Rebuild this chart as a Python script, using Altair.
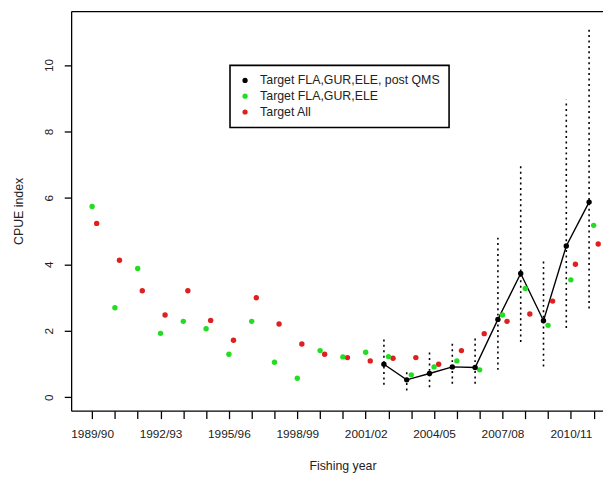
import altair as alt
import pandas as pd

# ---- data ----
years = ['1989/90', '1990/91', '1991/92', '1992/93', '1993/94', '1994/95', '1995/96',
         '1996/97', '1997/98', '1998/99', '1999/00', '2000/01', '2001/02', '2002/03',
         '2003/04', '2004/05', '2005/06', '2006/07', '2007/08', '2008/09', '2009/10',
         '2010/11', '2011/12']

green_vals = [5.74, 2.69, 3.87, 1.92, 2.28, 2.06, 1.29, 2.28, 1.05, 0.57, 1.40, 1.21,
              1.35, 1.22, 0.67, 0.91, 1.09, 0.82, 2.47, 3.27, 2.16, 3.53, 5.17]
red_vals = [5.23, 4.12, 3.20, 2.47, 3.20, 2.31, 1.71, 2.99, 2.20, 1.60, 1.29, 1.19,
            1.09, 1.17, 1.19, 0.99, 1.40, 1.91, 2.28, 2.50, 2.89, 4.00, 4.61]

post_years = years[13:]
post_vals = [0.99, 0.52, 0.71, 0.91, 0.89, 2.34, 3.72, 2.30, 4.55, 5.87]
post_lo = [0.37, 0.20, 0.30, 0.40, 0.40, 0.82, 1.66, 0.92, 2.08, 2.67]
post_hi = [1.81, 0.82, 1.35, 1.61, 1.81, 4.81, 6.99, 4.14, 8.95, 11.09]

series_names = ['Target FLA,GUR,ELE, post QMS', 'Target FLA,GUR,ELE', 'Target All']
series_colors = ['#000000', '#22dd22', '#dd2020']
tick_labels = years

# ---- table ----
rows = []
for y, v in zip(years, red_vals):
    rows.append({'year': y, 'idx': years.index(y), 'value': v, 'series': series_names[2]})
for y, v in zip(years, green_vals):
    rows.append({'year': y, 'idx': years.index(y), 'value': v, 'series': series_names[1]})
for y, v, lo, hi in zip(post_years, post_vals, post_lo, post_hi):
    rows.append({'year': y, 'idx': years.index(y), 'value': v, 'lo': lo, 'hi': hi,
                 'series': series_names[0]})
df = pd.DataFrame(rows)

offset_expr = (f"datum.series == '{series_names[0]}' ? datum.idx - 0.2 : "
               f"(datum.series == '{series_names[2]}' ? datum.idx + 0.2 : datum.idx)")

label_array = "[" + ",".join(f"'{t}'" for t in tick_labels) + "]"
label_expr = f"datum.value % 3 == 0 ? {label_array}[datum.value] : ''"

xscale = alt.Scale(domain=[-0.92, 22.41], nice=False, zero=False)
yscale = alt.Scale(domain=[-0.41, 11.62], nice=False, zero=False)

FONT = 'Liberation Sans'
TXT = '#222222'

x_bottom = alt.Axis(orient='bottom', values=list(range(len(years))), labelExpr=label_expr,
                    grid=False, tickSize=8, labelPadding=10, labelFontSize=12,
                    labelFont=FONT, labelColor=TXT, labelAngle=0, labelOverlap=False,
                    title='Fishing year', titleFont=FONT, titleFontSize=12.5,
                    titleFontWeight='normal', titleColor=TXT, titleY=56,
                    titleX=275, titleBaseline='middle',
                    domainColor='black', tickColor='black', domainWidth=1.3, tickWidth=1.3)
x_top = alt.Axis(orient='top', labels=False, ticks=False, grid=False, title=None,
                 domain=True, domainColor='black', domainWidth=1.3)

y_axis = alt.Axis(values=[0, 2, 4, 6, 8, 10], grid=False, tickSize=7, labelPadding=12,
                  labelAngle=270, labelAlign='center', labelBaseline='alphabetic',
                  labelFontSize=12, labelFont=FONT, labelColor=TXT,
                  title='CPUE index', titleFont=FONT, titleFontSize=12.5,
                  titleFontWeight='normal', titleColor=TXT, titleAngle=270,
                  titleX=-53, titleY=202.5, titleAlign='center', titleBaseline='middle',
                  domainColor='black', tickColor='black', domainWidth=1.3, tickWidth=1.3)

base = alt.Chart(df).transform_calculate(xpos=offset_expr)

post = base.transform_filter(f"datum.series == '{series_names[0]}'")

bars = post.mark_rule(color='black', strokeWidth=1.6, strokeDash=[2, 3.5]).encode(
    x=alt.X('xpos:Q', scale=xscale, axis=x_top),
    y=alt.Y('lo:Q', scale=yscale, axis=y_axis),
    y2='hi:Q',
)

line = post.mark_line(color='black', strokeWidth=1.4).encode(
    x=alt.X('xpos:Q', scale=xscale, axis=None),
    y=alt.Y('value:Q', scale=yscale, axis=y_axis),
    order='idx:Q',
)

points = base.mark_circle(size=30, opacity=1).encode(
    x=alt.X('xpos:Q', scale=xscale, axis=x_bottom),
    y=alt.Y('value:Q', scale=yscale, axis=y_axis),
    color=alt.Color('series:N',
                    scale=alt.Scale(domain=series_names, range=series_colors),
                    legend=alt.Legend(orient='none', legendX=161, legendY=55, title=None,
                                      symbolType='circle', symbolSize=28,
                                      symbolStrokeWidth=0, labelFontSize=12.5,
                                      labelFont=FONT, labelColor=TXT, labelLimit=400,
                                      labelOffset=9, rowPadding=3, padding=9,
                                      strokeColor='black', fillColor='white')),
)

chart = alt.layer(bars, line, points).resolve_axis(x='independent').properties(
    width=539, height=405,
    autosize=alt.AutoSizeParams(type='none'),
    padding={'left': 64, 'top': 0, 'right': 0, 'bottom': 63},
    background='white',
).configure_view(stroke=None).configure_legend(strokeWidth=1.6, cornerRadius=0)

chart.save("out.html", embed_options={"renderer": "svg", "actions": False})
